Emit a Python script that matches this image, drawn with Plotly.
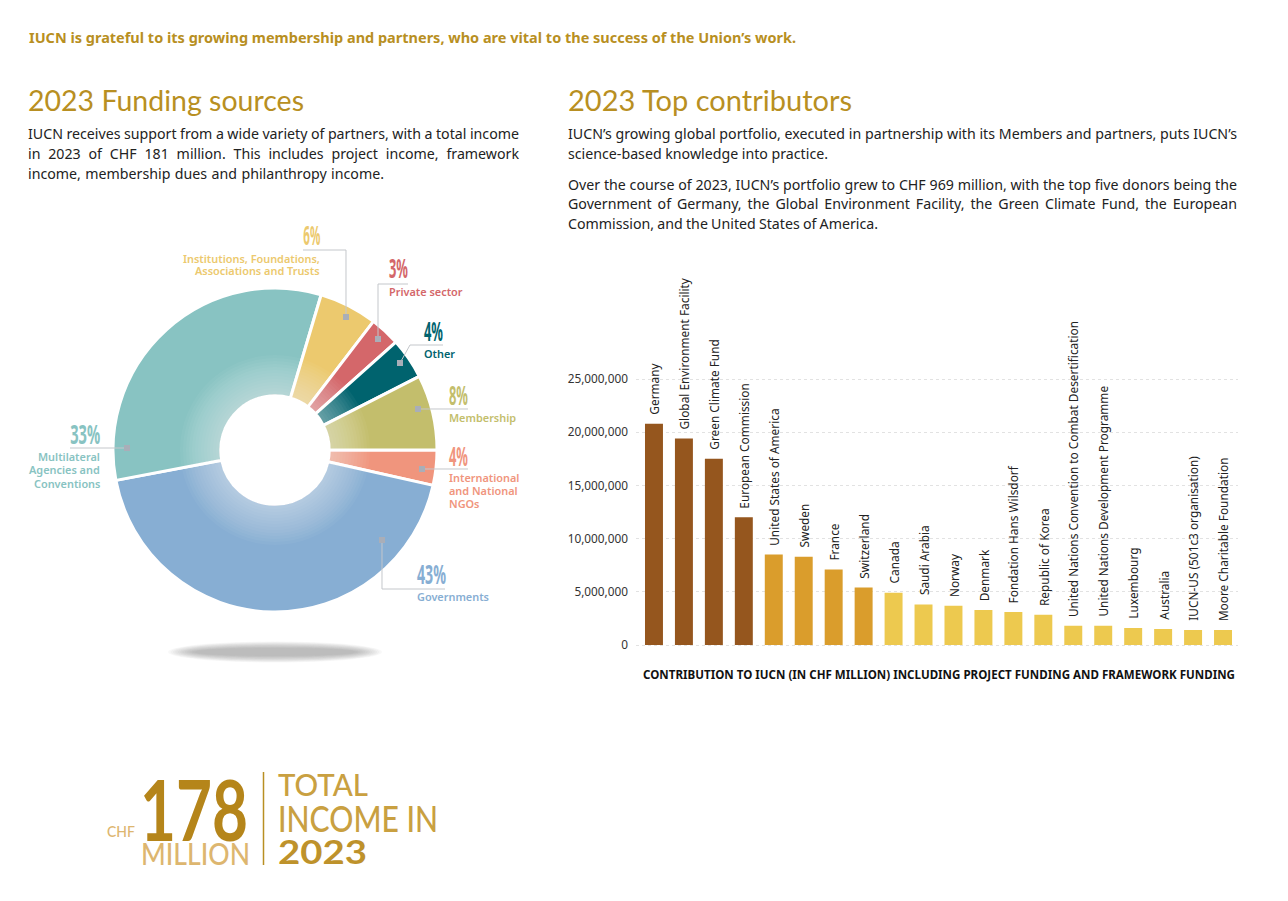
import json
import plotly.graph_objects as go

W, H = 1288, 901
GOLD = "#B88F22"
BODY = "#222222"
NOTO = "Noto Sans"

# ---- data ----
slice_names = ["International and National NGOs", "Governments", "Multilateral Agencies and Conventions",
               "Institutions, Foundations, Associations and Trusts", "Private sector", "Other", "Membership"]
slice_shares = [3.5, 43.5, 32.6, 5.8, 3.0, 4.1, 7.5]
slice_colors = ["#F0957D", "#87AED3", "#88C3C2", "#ECC96E", "#D4676A", "#00636E", "#C3BE6C"]

donors = ["Germany", "Global Environment Facility", "Green Climate Fund", "European Commission",
          "United States of America", "Sweden", "France", "Switzerland", "Canada", "Saudi Arabia",
          "Norway", "Denmark", "Fondation Hans Wilsdorf", "Republic of Korea",
          "United Nations Convention to Combat Desertification", "United Nations Development Programme",
          "Luxembourg", "Australia", "IUCN-US (501c3 organisation)", "Moore Charitable Foundation"]
donor_values = [20800000, 19400000, 17500000, 12000000, 8500000, 8300000, 7100000, 5400000, 4900000, 3800000,
                3700000, 3300000, 3100000, 2850000, 1800000, 1800000, 1600000, 1500000, 1400000, 1400000]
donor_colors = ["#95561E"] * 4 + ["#DA9D2C"] * 4 + ["#EDC94F"] * 12
y_ticks = [0, 5000000, 10000000, 15000000, 20000000, 25000000]


def px(x):
    return x / W


def py(y):
    return 1 - y / H


def text(s, x, y, size, color, family=NOTO, anchor="left", weight=None):
    return dict(text=s, x=px(x), y=py(y), xref="paper", yref="paper", showarrow=False, xanchor=anchor,
                yanchor="middle", align=anchor, borderpad=0, borderwidth=0,
                font=dict(size=size, color=color, family=family, **({"weight": weight} if weight else {})))


ann = []
shapes = []
fit = {}        # text -> exact drawn width in the reference (glyphs squeezed)
justified = {}  # text -> line width in the reference (word spacing)

HEAD = "IUCN is grateful to its growing membership and partners, who are vital to the success of the Union’s work."
ann.append(text(HEAD, 29, 37, 14.4, GOLD, weight=700))
fit[HEAD] = 767
ann.append(text("2023 Funding sources", 28, 100, 29, GOLD, "Lato", weight=400))
fit["2023 Funding sources"] = 276
ann.append(text("2023 Top contributors", 568, 100, 29, GOLD, "Lato", weight=400))
fit["2023 Top contributors"] = 284

left_lines = [("IUCN receives support from a wide variety of partners, with a total income", 134, 491),
              ("in 2023 of CHF 181 million. This includes project income, framework", 154, 491),
              ("income, membership dues and philanthropy income.", 173.5, 356)]
right_lines = [("IUCN’s growing global portfolio, executed in partnership with its Members and partners, puts IUCN’s", 134, 669),
               ("science-based knowledge into practice.", 154, 260),
               ("Over the course of 2023, IUCN’s portfolio grew to CHF 969 million, with the top five donors being the", 184, 669),
               ("Government of Germany, the Global Environment Facility, the Green Climate Fund, the European", 204, 669),
               ("Commission, and the United States of America.", 224, 310)]
for s, y, w in left_lines:
    ann.append(text(s, 28, y, 14.2, BODY))
    justified[s] = w
for s, y, w in right_lines:
    ann.append(text(s, 568, y, 14.2, BODY))
    justified[s] = w

# donut labels
C_INT, C_GOV, C_MUL, C_INS, C_PRI, C_OTH, C_MEM = slice_colors
labels = [
    ("6%", 320, 235, 26, C_INS, "right", True), ("Institutions, Foundations,", 320, 258, 10.9, C_INS, "right", False),
    ("Associations and Trusts", 320, 271, 10.9, C_INS, "right", False),
    ("3%", 389, 268, 26, C_PRI, "left", True), ("Private sector", 389, 291.5, 10.9, C_PRI, "left", False),
    ("4%", 424, 331, 26, C_OTH, "left", True), ("Other", 424, 353.5, 10.9, C_OTH, "left", False),
    ("8%", 449, 395, 26, C_MEM, "left", True), ("Membership", 449, 417.5, 10.9, C_MEM, "left", False),
    ("4%", 449, 456, 26, C_INT, "left", True), ("International", 449, 477.5, 10.9, C_INT, "left", False),
    ("and National", 449, 490.5, 10.9, C_INT, "left", False), ("NGOs", 449, 503.5, 10.9, C_INT, "left", False),
    ("43%", 417, 574, 26, C_GOV, "left", True), ("Governments", 417, 596.5, 10.9, C_GOV, "left", False),
    ("33%", 100, 434, 26, C_MUL, "right", True), ("Multilateral", 100, 456.5, 10.9, C_MUL, "right", False),
    ("Agencies and", 100, 469.5, 10.9, C_MUL, "right", False), ("Conventions", 100, 483.5, 10.9, C_MUL, "right", False),
]
for s, x, y, size, c, a, big in labels:
    ann.append(text(s, x, y, size, c, NOTO, a, weight=700 if big else 600))
fit.update({"6%": 17, "3%": 19, "4%": 19, "8%": 19, "43%": 29, "33%": 30})

# soft glow toward the donut hole
CX, CY = 275, 450
for i in range(14):
    r = 56 + i * 3
    shapes.append(dict(type="circle", xref="paper", yref="paper", x0=px(CX - r), x1=px(CX + r), y0=py(CY + r),
                       y1=py(CY - r), fillcolor="rgba(255,255,255,0.04)", line=dict(width=0), layer="above"))
# floating shadow
for i in range(12):
    rx, ry = 107 - i * 2.4, 10.5 - i * 0.6
    shapes.append(dict(type="circle", xref="paper", yref="paper", x0=px(275 - rx), x1=px(275 + rx), y0=py(652 + ry),
                       y1=py(652 - ry), fillcolor="rgba(120,120,120,0.05)", line=dict(width=0), layer="below"))

# leader lines
leaders = [[(303, 250), (346, 250), (346, 317)], [(408, 284), (378, 284), (378, 339)],
           [(443, 345), (410, 345), (400, 363)], [(468, 409), (418, 409)], [(468, 469), (422, 469)],
           [(382, 540), (382, 589), (445, 589)], [(70, 448), (127, 448)]]
for pts in leaders:
    path = "M " + " L ".join(f"{px(a):.5f},{py(b):.5f}" for a, b in pts)
    shapes.append(dict(type="path", xref="paper", yref="paper", path=path, line=dict(color="#C4C7CB", width=1), layer="above"))
    a, b = pts[-1] if pts[0][0] != 382 else pts[0]
    shapes.append(dict(type="rect", xref="paper", yref="paper", x0=px(a - 3), x1=px(a + 3), y0=py(b + 3), y1=py(b - 3),
                       fillcolor="#A9AEB8", line=dict(width=0), layer="above"))

# bar labels, anchored to the bars
for d, v in zip(donors, donor_values):
    ann.append(dict(text=d, x=d, y=v, xref="x", yref="y", showarrow=False, textangle=-90, xanchor="center",
                    yanchor="bottom", yshift=7, font=dict(size=11.85, color=BODY, family=NOTO)))

XT = "CONTRIBUTION TO IUCN (IN CHF MILLION) INCLUDING PROJECT FUNDING AND FRAMEWORK FUNDING"
ann.append(text(XT, 643, 674.5, 12.2, "#111111", NOTO, "left", weight=700))
fit[XT] = 592

# total income lockup
LIGHT = "#DDB66F"
MID = "#C9A041"
ann.append(text("CHF", 107, 831, 15, LIGHT, "Lato", weight=500))
fit["CHF"] = 28
ann.append(text("178", 140, 808, 84, "#B5851A", "Lato", weight=700))
fit["178"] = 108
ann.append(text("MILLION", 141, 853, 31, LIGHT, "Lato", weight=500))
fit["MILLION"] = 109
ann.append(text("TOTAL", 278, 784, 30, MID, "Lato", weight=500))
fit["TOTAL"] = 90
ann.append(text("INCOME IN", 278, 818, 36, MID, "Lato", weight=500))
fit["INCOME IN"] = 160
ann.append(text("2023", 278, 851, 32, "#BE922B", "Lato", weight=700))
fit["2023"] = 89
shapes.append(dict(type="line", xref="paper", yref="paper", x0=px(263.5), x1=px(263.5), y0=py(772), y1=py(865),
                   line=dict(color=GOLD, width=1.5)))

fig = go.Figure()
fig.add_trace(go.Pie(labels=slice_names, values=slice_shares, hole=0.335, sort=False, direction="clockwise", rotation=90,
                     marker=dict(colors=slice_colors, line=dict(color="white", width=3)), textinfo="none",
                     domain=dict(x=[px(CX - 162), px(CX + 162)], y=[py(CY + 162), py(CY - 162)]), showlegend=False))
fig.add_trace(go.Bar(x=donors, y=donor_values, marker=dict(color=donor_colors, line=dict(width=0)), width=0.6, showlegend=False))

# a small range pad keeps the 0 and 25,000,000 gridlines visible
PAD = 200000
PX_PER = 266 / 25000000
fig.update_layout(
    width=W, height=H, margin=dict(l=0, r=0, t=0, b=0, autoexpand=False), paper_bgcolor="white", plot_bgcolor="white",
    font=dict(family=NOTO), annotations=ann, shapes=shapes,
    xaxis=dict(domain=[px(636), px(1238)], range=[-0.6, 19.5], showticklabels=False, ticks="", showgrid=False,
               zeroline=False, showline=False, categoryorder="array", categoryarray=donors),
    yaxis=dict(domain=[py(645 + PAD * PX_PER), py(379 - PAD * PX_PER)], range=[-PAD, 25000000 + PAD], tickvals=y_ticks,
               tickformat=",d", tickfont=dict(size=11.8, color="#333333", family=NOTO), showgrid=True,
               gridcolor="#E2E2E2", griddash="dot", gridwidth=1, zeroline=False, showline=False, ticks="",
               ticklabelstandoff=7),
)

post = """
document.documentElement.style.overflow='hidden';
document.body.style.margin='0';
var J=%s, F=%s;
function adjust(){document.querySelectorAll('.annotation-text').forEach(function(t){
  var s=t.textContent;
  if(s in J){
    t.style.wordSpacing='0px';
    var n=s.split(' ').length-1;
    t.style.wordSpacing=((J[s]-t.getComputedTextLength())/n).toFixed(3)+'px';
  }
  if(s in F){
    t.setAttribute('textLength',F[s]);
    t.setAttribute('lengthAdjust','spacingAndGlyphs');
  }
});}
adjust(); setTimeout(adjust,300);
""" % (json.dumps(justified), json.dumps(fit))
fig.write_html("out.html", post_script=post, config={"displayModeBar": False})
